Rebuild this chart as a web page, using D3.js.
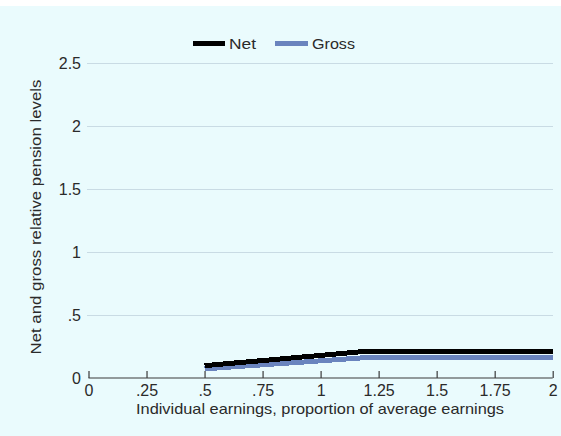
<!DOCTYPE html>
<html>
<head>
<meta charset="utf-8">
<script src="https://cdn.jsdelivr.net/npm/d3@7"></script>
<style>
  html, body { margin: 0; padding: 0; background: #ffffff; }
  svg { display: block; }
  text { font-family: "Liberation Sans", Arial, sans-serif; fill: #2a2a2a; }
</style>
</head>
<body>
<script>
// ---- data ----
const earnings = [0.5, 0.6, 0.7, 0.8, 0.9, 1.0, 1.1, 1.2, 1.3, 1.4, 1.5, 1.6, 1.7, 1.8, 1.9, 2.0];
const netLevels = [0.095, 0.112, 0.128, 0.144, 0.161, 0.177, 0.194, 0.21, 0.21, 0.21, 0.21, 0.21, 0.21, 0.21, 0.21, 0.21];
const grossLevels = [0.07, 0.083, 0.096, 0.109, 0.121, 0.134, 0.147, 0.16, 0.16, 0.16, 0.16, 0.16, 0.16, 0.16, 0.16, 0.16];
const xTicks = [0, 0.25, 0.5, 0.75, 1, 1.25, 1.5, 1.75, 2];
const xTickLabels = ["0", ".25", ".5", ".75", "1", "1.25", "1.5", "1.75", "2"];
const yTicks = [0, 0.5, 1, 1.5, 2, 2.5];
const yTickLabels = ["0", ".5", "1", "1.5", "2", "2.5"];
const seriesNames = ["Net", "Gross"];
const seriesColors = ["#000000", "#6a84be"];

const W = 561, H = 436;
const svg = d3.select("body").append("svg").attr("width", W).attr("height", H);

// background
svg.append("rect").attr("x", 0).attr("y", 0).attr("width", W).attr("height", H).attr("fill", "#ffffff");
svg.append("rect").attr("x", 0).attr("y", 6).attr("width", W).attr("height", H - 6).attr("fill", "#eafbfd");

const x = d3.scaleLinear().domain([0, 2]).range([88.5, 552.7]);
const y = d3.scaleLinear().domain([0, 2.5]).range([377.7, 62.7]);

// gridlines
svg.append("g").selectAll("line").data(yTicks.filter(d => d > 0)).join("line")
  .attr("x1", 87).attr("x2", 553)
  .attr("y1", d => Math.round(y(d)) + 0.5).attr("y2", d => Math.round(y(d)) + 0.5)
  .attr("stroke", "#c9dbe4").attr("stroke-width", 1);

// y tick labels
svg.append("g").selectAll("text").data(yTicks).join("text")
  .attr("x", 81).attr("y", d => y(d) + 6)
  .attr("text-anchor", "end").attr("font-size", 16)
  .text((d, i) => yTickLabels[i]);

// x axis
const xAxis = d3.axisBottom(x).tickValues(xTicks).tickSize(-7).tickFormat((d, i) => xTickLabels[i]);
const gx = svg.append("g").attr("transform", "translate(0," + Math.round(y(0)) + ")").call(xAxis);
gx.select(".domain").attr("stroke", "#3a3a3a").attr("stroke-width", 1.2).attr("d", "M" + x(0) + ",0H" + x(2));
gx.selectAll(".tick line").attr("stroke", "#3a3a3a").attr("stroke-width", 1.2);
gx.selectAll(".tick text").attr("font-size", 16).attr("fill", "#2a2a2a")
  .attr("font-family", "Liberation Sans, Arial, sans-serif").attr("y", 7).attr("dy", "0.71em");

// lines
const pts = (vals) => earnings.map((e, i) => [e, vals[i]]);
const line = d3.line().x(d => x(d[0])).y(d => y(d[1]));
[grossLevels, netLevels].forEach((vals, k) => {
  const color = k === 0 ? seriesColors[1] : seriesColors[0];
  svg.append("path").attr("d", line(pts(vals)))
    .attr("fill", "none").attr("stroke", color).attr("stroke-width", 5)
    .attr("stroke-linejoin", "round").attr("shape-rendering", "crispEdges");
});

// axis titles
svg.append("text").attr("x", 320).attr("y", 414).attr("text-anchor", "middle")
  .attr("font-size", 15).attr("textLength", 368).attr("lengthAdjust", "spacingAndGlyphs")
  .text("Individual earnings, proportion of average earnings");
svg.append("text").attr("transform", "translate(41,217) rotate(-90)").attr("text-anchor", "middle")
  .attr("font-size", 15).attr("textLength", 275).attr("lengthAdjust", "spacingAndGlyphs")
  .text("Net and gross relative pension levels");

// legend
const legendItems = [
  { x1: 193, x2: 225, tx: 229, tw: 27 },
  { x1: 275, x2: 308, tx: 312, tw: 43 }
];
legendItems.forEach((it, i) => {
  svg.append("line").attr("x1", it.x1).attr("x2", it.x2).attr("y1", 43.5).attr("y2", 43.5)
    .attr("stroke", seriesColors[i]).attr("stroke-width", 5);
  svg.append("text").attr("x", it.tx).attr("y", 49).attr("font-size", 15)
    .attr("textLength", it.tw).attr("lengthAdjust", "spacingAndGlyphs")
    .text(seriesNames[i]);
});
</script>
</body>
</html>
